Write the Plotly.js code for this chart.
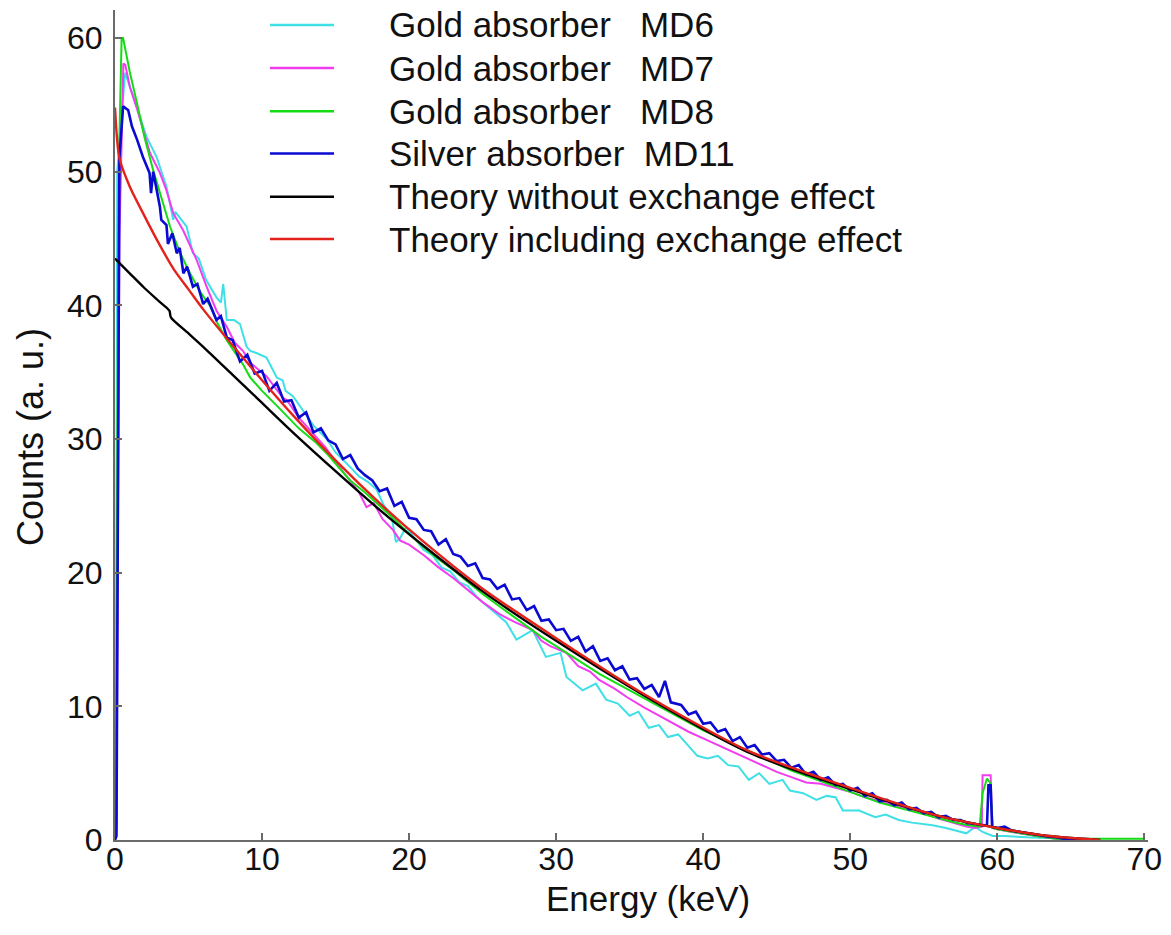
<!DOCTYPE html>
<html>
<head>
<meta charset="utf-8">
<script src="https://cdn.plot.ly/plotly-3.0.1.min.js"></script>
<style>html,body{margin:0;padding:0;background:#fff;}#chart{width:1171px;height:935px;}</style>
</head>
<body>
<div id="chart"></div>
<script>
// ---- data ----
const seriesNames = [
  'Gold absorber   MD6',
  'Gold absorber   MD7',
  'Gold absorber   MD8',
  'Silver absorber  MD11',
  'Theory without exchange effect',
  'Theory including exchange effect'
];
const seriesColors = ['#3ee0e6', '#f23cf0', '#14dc14', '#0a0ad2', '#000000', '#e3221c'];
const xTitle = 'Energy (keV)';
const yTitle = 'Counts (a. u.)';

const md6E = [0,0.05,0.15,0.3,0.68,1.2,1.7,2.15,2.83,3.5,3.96,4.1,4.87,5.3,5.7,6.2,6.9,7.2,7.36,7.6,8.1,8.5,8.95,9.2,9.7,10.3,11,11.4,11.6,12.1,12.3,13,13.5,14.4,15,16,16.6,17.2,17.8,18.3,18.8,19.1,19.4,19.8,20.3,21,21.6,22.2,22.8,23.4,24,24.6,25.2,26.15,26.6,27.3,28.4,29.3,30.3,30.7,31.8,32.7,33.4,34.2,35,35.6,36.3,37,37.6,38.3,39,39.6,40.3,41,41.7,42.4,43.1,43.8,44.5,45.4,45.9,46.8,47.7,48.4,49,49.5,50.6,51.7,52.4,53.3,54.2,55.6,56.5,57.3,57.9,58.5,59,59.7,60.5,62,64,65,67];
const md6C = [0,1,50,52,57.4,55.8,54.1,52.6,51.1,48.9,46.4,47.0,45.9,43.9,43.5,41.9,40.6,40.2,41.6,38.9,38.9,38.6,36.9,36.6,36.4,36.1,34.6,34.4,33.6,33.2,32.9,31.8,31.0,30.0,29.0,27.9,27.2,26.8,26.2,25.0,24.3,22.3,22.6,23.4,22.7,21.7,21.3,20.4,20.1,19.3,19.0,18.2,17.6,16.7,16.3,15.0,15.7,13.7,14.0,12.2,11.2,11.7,10.5,10.2,9.3,9.6,8.4,8.6,7.7,7.9,7.0,6.3,6.1,6.3,5.6,5.5,4.5,5.0,4.2,4.5,3.7,3.5,3.0,3.3,3.2,2.2,2.2,1.7,1.9,1.5,1.3,1.1,0.9,0.7,0.5,1.0,0.6,0.3,0.3,0.2,0.1,0.05,0];

const md7E = [0,0.1,0.3,0.57,0.7,1.02,1.47,1.93,2.38,3.06,3.5,3.96,4.64,5.55,6.23,6.9,7.6,8.15,8.7,9.2,10.3,11.4,11.7,12.5,13.5,14.3,15.2,16,16.6,17.1,17.6,18.2,18.9,19.4,20,21,22,23,24,25,26.15,27.2,28.4,29,29.6,30.7,31.5,32.3,32.9,34,34.8,36,37,38,39,40,41,42,43.1,44,45,46,47,48,49,50,51,52,53,54,55,56,57,57.9,58.5,58.95,59,59.55,59.65,60,61,62,63,64,65];
const md7C = [0,1,45,58.1,58.0,56.3,54.8,53.1,51.4,49.9,48.6,46.9,45.6,43.4,41.4,39.6,38.4,37.2,36.6,35.7,34.7,33.1,32.9,31.6,30.4,29.4,28.0,26.9,26.0,24.9,25.2,24.0,23.2,22.4,22.1,21.3,20.4,19.6,18.7,17.8,16.9,16.3,15.7,14.9,14.5,14.0,13.0,12.6,12.0,11.3,10.7,9.9,9.3,8.7,8.1,7.6,7.1,6.6,6.1,5.6,5.1,4.7,4.3,4.2,3.9,3.6,3.2,2.9,2.6,2.3,2.0,1.6,1.3,1.0,0.9,1.0,4.85,4.85,0.9,0.8,0.6,0.4,0.25,0.1,0];

const md8E = [0,0.05,0.25,0.45,0.55,1,1.5,2,2.6,3.2,3.74,4.4,5.1,5.8,6.45,7,7.6,8.2,8.7,9.2,10,11,11.7,12.5,13.7,14.5,15.2,16,17,18,19,20,21,22,23,24,25,26,27,28,29,30,31,32,33,34,35,36,37,38,39,40,41,42,43,44,45,46,47,48,49,50,51,52,53,54,55,56,57,58,58.8,59,59.3,59.5,59.7,60,61,62,63,64,65,66,70];
const md8C = [0,2,50,60,60,57.5,55.1,52.6,50.1,47.8,45.9,44.0,42.4,41.0,40.0,38.6,37.4,36.4,35.6,34.6,33.6,32.5,31.7,30.8,29.7,28.8,27.9,26.9,26.0,25.0,24.0,22.9,21.9,21.0,20.2,19.3,18.4,17.6,16.8,16.0,15.2,14.5,13.8,13.1,12.4,11.8,11.2,10.6,10.0,9.4,8.8,8.2,7.7,7.2,6.7,6.2,5.7,5.2,4.8,4.4,4.0,3.6,3.2,2.8,2.5,2.2,1.9,1.6,1.35,1.1,1.0,3.5,4.6,4.3,0.9,0.8,0.6,0.4,0.25,0.1,0.05,0.1,0.1];

const md11E = [0,0.1,0.3,0.55,0.9,1.15,1.5,1.9,2.35,2.45,2.6,3.05,3.15,3.5,3.6,3.9,4.2,4.4,4.65,4.9,5.3,5.6,6,6.3,6.9,7.2,7.6,8,8.5,9,9.5,10,10.5,11,11.5,12,12.5,13,13.5,14,14.5,15,15.5,16,16.5,17,17.5,18,18.5,19,19.5,20,20.5,21,21.5,22,22.5,23,23.5,24,24.5,25,25.5,26,26.5,27,27.5,28,28.5,29,29.5,30,30.5,31,31.5,32,32.5,33,33.5,34,34.5,35,35.5,36,36.5,37,37.4,37.8,38.5,39,39.5,40,40.5,41,41.5,42,42.5,43,43.5,44,44.5,45,45.5,46,46.5,47,47.5,48,48.5,49,49.5,50,50.5,51,51.5,52,52.5,53,53.5,54,54.5,55,55.5,56,56.5,57,57.5,58,58.5,59,59.3,59.4,59.55,59.65,60,60.5,61,61.5,62,62.5,63,63.5,64,64.5,65,66];
const md11C = [0,0.3,51,54.9,54.6,53.4,52.4,51.1,49.9,48.4,50.0,47.4,46.4,46.0,44.6,45.4,43.9,44.3,42.4,42.9,41.4,41.6,40.1,40.5,38.9,39.2,37.6,37.4,35.8,36.3,34.9,35.1,33.6,34.2,32.8,32.9,31.6,32.0,30.5,30.8,29.9,29.6,28.5,28.8,27.8,27.3,26.9,26.1,26.3,25.0,25.3,24.1,24.0,23.2,23.1,22.1,22.5,21.4,21.2,20.5,20.7,19.6,19.5,18.8,19.1,18.0,18.1,17.2,17.5,16.4,16.5,15.7,15.8,14.9,15.2,14.1,14.5,13.4,13.6,12.7,13.0,12.0,12.1,11.3,11.6,10.7,11.9,10.3,10.1,9.4,9.6,8.7,8.8,8.1,8.3,7.4,7.7,6.9,7.1,6.4,6.5,5.9,6.0,5.4,5.6,4.9,5.1,4.5,4.7,4.1,4.2,3.7,3.9,3.3,3.5,2.9,3.0,2.6,2.8,2.3,2.4,2.0,2.1,1.7,1.8,1.5,1.5,1.25,1.2,1.1,1.1,4.1,4.1,1.0,0.9,1.0,0.7,0.6,0.5,0.4,0.3,0.25,0.2,0.1,0.1,0];

const noExchE = [0,1,2,3,3.7,3.8,5,6,8,10,12,15,18,21,25,30,36,43,50,56,60,63.5,67];
const noExchC = [43.5,42.4,41.3,40.3,39.6,39.1,37.9,36.9,34.8,32.7,30.6,27.6,24.7,22.0,18.6,14.9,10.8,6.6,3.8,1.8,0.9,0.3,0];
const withExchE = [0,0.3,1,2,3,4,5,6,8,10,12,15,18,21,25,30,36,43,50,56,60,63.5,67];
const withExchC = [54.8,51.0,48.9,46.7,44.6,42.7,41.2,39.7,37.0,34.4,31.9,28.4,25.2,22.3,18.8,15.1,10.9,6.7,3.9,1.8,0.9,0.3,0];

const xTicks = [0,10,20,30,40,50,60,70];
const yTicks = [0,10,20,30,40,50,60];

// ---- build ----
const FONT = 'Liberation Sans, Arial, sans-serif';
const xs = [md6E, md7E, md8E, md11E, noExchE, withExchE];
const ys = [md6C, md7C, md8C, md11C, noExchC, withExchC];
const widths = [2, 2, 2, 2.6, 2.4, 2.4];
const traces = [0, 1, 2, 3, 4, 5].map(i => ({
  type: 'scatter', mode: 'lines', name: seriesNames[i],
  x: xs[i], y: ys[i], showlegend: false, hoverinfo: 'skip',
  line: i >= 4 ? {color: seriesColors[i], width: widths[i], shape: 'spline', smoothing: 0.7}
               : {color: seriesColors[i], width: widths[i]}
}));

const legendRowsY = [0.982, 0.930, 0.878, 0.827, 0.775, 0.724];
const shapes = [];
const annotations = [];
seriesNames.forEach((n, i) => {
  shapes.push({type: 'line', xref: 'paper', yref: 'paper',
    x0: 0.150, x1: 0.212, y0: legendRowsY[i], y1: legendRowsY[i],
    line: {color: seriesColors[i], width: 2.5}});
  annotations.push({xref: 'paper', yref: 'paper', x: 0.263, y: legendRowsY[i],
    xanchor: 'left', yanchor: 'middle', showarrow: false,
    text: n.replace(/ /g, '\u00a0'),
    font: {family: FONT, size: 35, color: '#111'}});
});
// axis titles placed as in the reference
annotations.push({xref: 'paper', yref: 'paper', x: 0.516, y: -0.071,
  xanchor: 'center', yanchor: 'middle', showarrow: false, text: xTitle,
  font: {family: FONT, size: 35, color: '#111'}});
annotations.push({xref: 'paper', yref: 'paper', x: -0.0823, y: 0.4855, textangle: -90,
  xanchor: 'center', yanchor: 'middle', showarrow: false, text: yTitle,
  font: {family: FONT, size: 36, color: '#111'}});

const axisCommon = {
  showgrid: false, zeroline: false, showline: true, linecolor: '#6a6a6a', linewidth: 2,
  ticks: 'inside', ticklen: 7, tickwidth: 2, tickcolor: '#6a6a6a',
  tickfont: {family: FONT, size: 32, color: '#111'}, mirror: false
};

const layout = {
  width: 1171, height: 935,
  margin: {l: 115, r: 23, t: 10, b: 95},
  paper_bgcolor: '#fff', plot_bgcolor: '#fff',
  showlegend: false,
  xaxis: Object.assign({}, axisCommon, {
    range: [0, 70.25], tickmode: 'array', tickvals: xTicks, ticktext: xTicks.map(String),
    ticklabelstandoff: -10, title: {text: ''}
  }),
  yaxis: Object.assign({}, axisCommon, {
    range: [0, 62.1], tickmode: 'array', tickvals: yTicks, ticktext: yTicks.map(String),
    ticklabelstandoff: 4, title: {text: ''}
  }),
  shapes: shapes,
  annotations: annotations
};

Plotly.newPlot('chart', traces, layout, {displayModeBar: false, staticPlot: true});
</script>
</body>
</html>
